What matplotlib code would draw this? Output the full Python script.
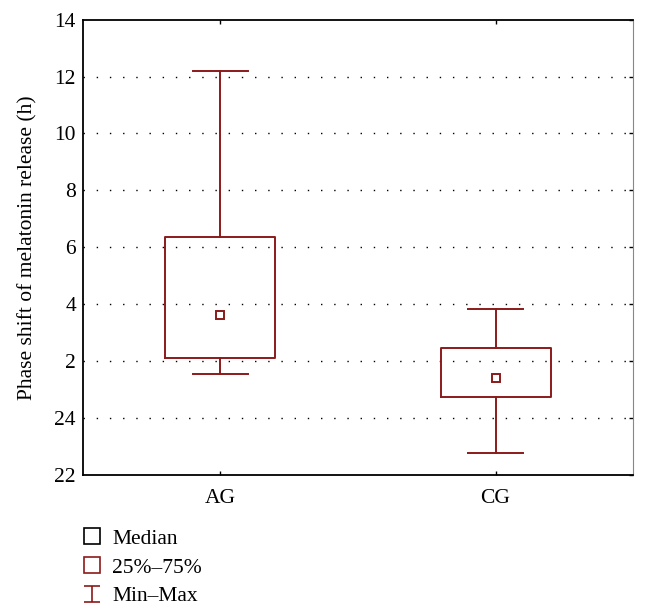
import matplotlib
matplotlib.use("Agg")
import matplotlib.pyplot as plt
from matplotlib.path import Path
from matplotlib.lines import Line2D

# Data (clock hours, continuous scale: 26 == 2 h next day)
groups = ["AG", "CG"]
mins = [25.56, 22.76]
q1s = [26.11, 24.74]
medians = [27.61, 25.40]
q3s = [30.36, 26.44]
maxs = [36.19, 27.83]
yticks = [22, 24, 26, 28, 30, 32, 34, 36, 38]
ytick_labels = ["22", "24", "2", "4", "6", "8", "10", "12", "14"]

red = "#8B1A1A"
plt.rcParams["font.family"] = ["Liberation Serif", "DejaVu Serif"]

fig = plt.figure(figsize=(6.48, 6.15), dpi=100)
ax = fig.add_axes([0.128, 0.228, 0.849, 0.740])

pos = [1, 2]
stats = []
for g, lo, a, m, b, hi in zip(groups, mins, q1s, medians, q3s, maxs):
    stats.append(dict(label=g, whislo=lo, q1=a, med=m, q3=b, whishi=hi, fliers=[]))

ax.bxp(stats, positions=pos, widths=0.4, capwidths=0.2, showfliers=False,
       boxprops=dict(color=red, linewidth=1.4),
       whiskerprops=dict(color=red, linewidth=1.4),
       capprops=dict(color=red, linewidth=1.4),
       medianprops=dict(linewidth=0))
ax.plot(pos, medians, linestyle="none", marker="s", markersize=5.5,
        markerfacecolor="white", markeredgecolor=red, markeredgewidth=1.4, zorder=5)

ax.set_xlim(0.5, 2.5)
ax.set_ylim(22, 38)
ax.set_yticks(yticks)
ax.set_yticklabels(ytick_labels)
ax.set_xticks(pos)
ax.set_xticklabels(groups)
ax.tick_params(axis="both", direction="in", labelsize=15.5, length=3, width=1,
               top=True, right=True)
ax.tick_params(axis="x", pad=10)
ax.tick_params(axis="y", left=False, pad=5)
ax.set_ylabel("Phase shift of melatonin release (h)", fontsize=15.5, labelpad=12)

for v in yticks[1:-1]:
    ax.axhline(v, color="black", linewidth=1.0, linestyle=(0, (1, 8.5)), zorder=0)

for s in ["left", "bottom", "top"]:
    ax.spines[s].set_color("black")
    ax.spines[s].set_linewidth(1.3)
ax.spines["right"].set_color("#888888")
ax.spines["right"].set_linewidth(0.8)

ibeam = Path([(-0.5, 0.5), (0.5, 0.5), (0, 0.5), (0, -0.5), (-0.5, -0.5), (0.5, -0.5)],
             [Path.MOVETO, Path.LINETO, Path.MOVETO, Path.LINETO, Path.MOVETO, Path.LINETO])
handles = [
    Line2D([], [], linestyle="none", marker="s", markersize=11, markerfacecolor="white",
           markeredgecolor="black", markeredgewidth=1.2),
    Line2D([], [], linestyle="none", marker="s", markersize=11, markerfacecolor="white",
           markeredgecolor=red, markeredgewidth=1.2),
    Line2D([], [], linestyle="none", marker=ibeam, markersize=11, markerfacecolor="none",
           markeredgecolor=red, markeredgewidth=1.2),
]
labels = ["Median", "25%\u201375%", "Min\u2013Max"]
fig.legend(handles, labels, loc="upper left", bbox_to_anchor=(0.125, 0.14),
           frameon=False, fontsize=15.5, handlelength=1.0, handletextpad=0.45,
           labelspacing=0.4, borderpad=0, borderaxespad=0)

fig.savefig("out.png", dpi=100)
